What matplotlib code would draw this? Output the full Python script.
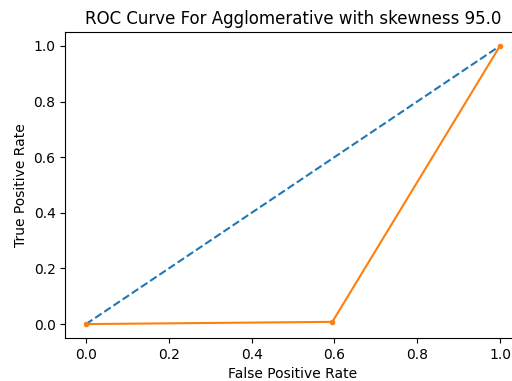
import matplotlib
matplotlib.use("Agg")
import matplotlib.pyplot as plt

baseline_fpr = [0, 1]
baseline_tpr = [0, 1]
model_fpr = [0.0, 0.595, 1.0]
model_tpr = [0.0, 0.008, 1.0]

fig = plt.figure(figsize=(5.12, 3.81), dpi=100)
ax = fig.add_axes([65.3 / 512, 43 / 381, 455.4 / 512, 306 / 381])
ax.plot(baseline_fpr, baseline_tpr, linestyle='--', color='C0')
ax.plot(model_fpr, model_tpr, marker='.', color='C1')
ax.spines['right'].set_visible(False)
ax.set_title('ROC Curve For Agglomerative with skewness 95.0')
ax.set_xlabel('False Positive Rate')
ax.set_ylabel('True Positive Rate')
fig.savefig('out.png', dpi=100)
